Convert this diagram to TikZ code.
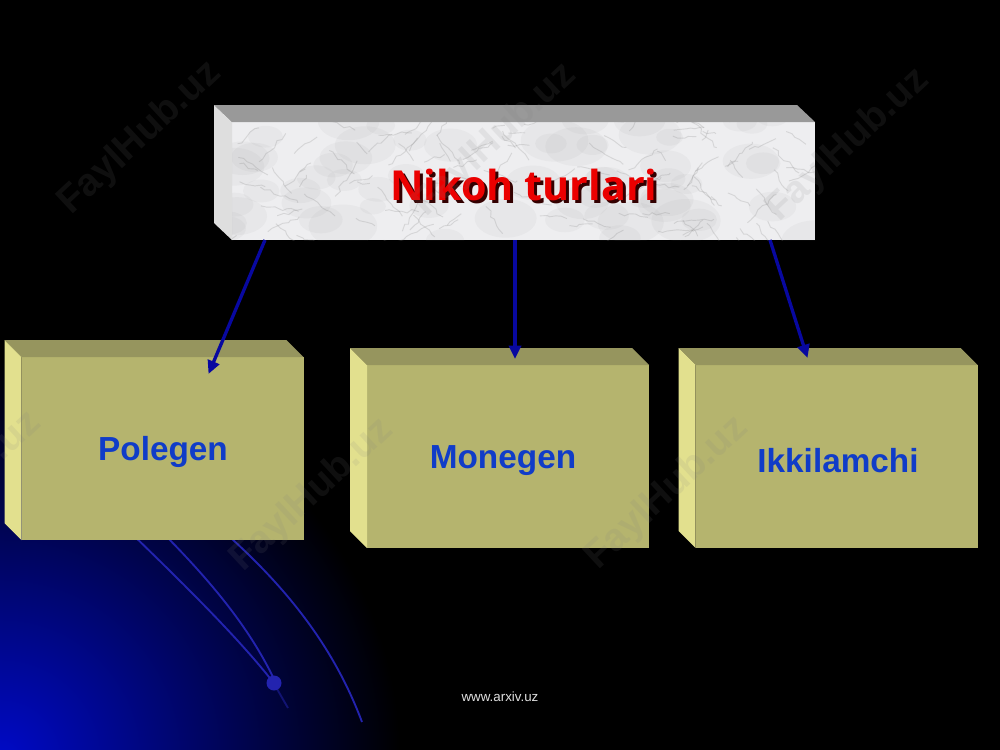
\documentclass[tikz,border=0pt]{standalone}
\usepackage{fontspec}
\setmainfont{Liberation Sans}
\newfontfamily\titlefont{Open Sans}
\usetikzlibrary{arrows.meta,calc,decorations.pathmorphing}
\definecolor{boxfront}{RGB}{181,180,110}
\definecolor{boxtop}{RGB}{150,149,94}
\definecolor{boxleft}{RGB}{226,224,142}
\definecolor{labelblue}{RGB}{16,60,200}
\definecolor{arrowblue}{RGB}{8,8,160}
\definecolor{glowblue}{RGB}{0,10,200}
\definecolor{curveblue}{RGB}{35,35,175}
\definecolor{marble}{RGB}{238,238,240}
\definecolor{marbletop}{RGB}{153,153,153}
\definecolor{marbleleft}{RGB}{222,222,222}
\definecolor{titlered}{RGB}{235,0,0}
\tikzset{
  frontbox/.style={fill=boxfront, draw=none, inner sep=0pt, outer sep=0pt,
    minimum width=211.5pt, minimum height=137.25pt},
  boxlabel/.style={font=\fontsize{25}{30}\selectfont\bfseries, text=labelblue},
  topface/.style={fill=boxtop},
  leftface/.style={fill=boxleft},
  link/.style={draw=arrowblue, line width=2.5pt, -{Triangle[length=10pt,width=9pt]}},
  curve/.style={draw=curveblue, line width=1.4pt},
  vein/.style={draw=gray, opacity=0.22, line width=0.7pt,
    decorate, decoration={random steps, segment length=4pt, amplitude=1.5pt}},
  wmark/.style={text=gray, opacity=0.12, rotate=43,
    font=\fontsize{29}{30}\selectfont\bfseries},
  titletext/.style={font=\titlefont\fontsize{31}{34}\selectfont\bfseries},
}
\begin{document}
\begin{tikzpicture}[x=0.75pt,y=-0.75pt]
\useasboundingbox (0,0) rectangle (1000,750);
\fill[black] (0,0) rectangle (1000,750);
% bottom-left glow
\begin{scope}
  \clip (0,0) rectangle (1000,750);
  \shade[inner color=glowblue, outer color=black] (0,760) circle (400);
\end{scope}
% decorative curves
\draw[curve] (128,530) .. controls (190,590) and (240,640) .. (273,682);
\draw[curve] (160,530) .. controls (215,585) and (250,630) .. (273,677);
\draw[curve, opacity=0.5] (273,682) -- (288,708);
\draw[curve] (222,530) .. controls (290,590) and (335,650) .. (362,722);
\fill[curveblue] (274,683) circle (7.5);

% top marble box
\node[fill=marble, inner sep=0pt, outer sep=0pt, minimum width=437.25pt, minimum height=88.5pt] (top) at (523.5,181) {};
\fill[marbletop] (top.north west) -- (top.north east) -- ++(-18,-17) -- ($(top.north west)+(-18,-17)$) -- cycle;
\fill[marbleleft] (top.north west) -- (top.south west) -- ++(-18,-17) -- ($(top.north west)+(-18,-17)$) -- cycle;
\begin{scope}
  \clip (top.south west) rectangle (top.north east);
  \pgfmathsetseed{11}
  \foreach \i in {1,...,60}{
    \pgfmathsetmacro\xa{225+600*rnd}
    \pgfmathsetmacro\ya{115+130*rnd}
    \pgfmathsetmacro\rr{8+14*rnd}
    \fill[gray, opacity=0.06] (\xa,\ya) ellipse ({\rr*1.6} and \rr);
  }
  \foreach \i in {1,...,130}{
    \pgfmathsetmacro\xa{225+600*rnd}
    \pgfmathsetmacro\ya{115+130*rnd}
    \pgfmathsetmacro\ang{-60+120*rnd}
    \pgfmathsetmacro\len{12+30*rnd}
    \draw[vein] (\xa,\ya) -- ++(\ang:\len);
  }
\end{scope}
\node[titletext, text=black!80!red] (shadow) at (527,188) {Nikoh turlari};
\node[titletext, text=titlered] (title) at (524,185) {Nikoh turlari};

% three boxes
\foreach \n/\cx/\cy in {pol/162.5/448.5, mon/508/456.5, ikk/836.5/456.5}{
  \node[frontbox] (\n) at (\cx,\cy) {};
  \fill[topface] (\n.north west) -- (\n.north east) -- ++(-17,-17) -- ($(\n.north west)+(-17,-17)$) -- cycle;
  \fill[leftface] (\n.north west) -- (\n.south west) -- ++(-17,-17) -- ($(\n.north west)+(-17,-17)$) -- cycle;
}
\node[boxlabel] (tpol) at (163,452) {Polegen};
\node[boxlabel] (tmon) at (503,461) {Monegen};
\node[boxlabel] (tikk) at (838,461) {Ikkilamchi};

% watermarks
\foreach \wx/\wy in {140/138, 495/140, 848/145, 312/495, 667/493, -40/488}{
  \node[wmark] at (\wx,\wy) {FaylHub.uz};
}

% connectors
\coordinate (s1) at ($(top.south west)+(33,0)$);
\coordinate (s2) at ($(top.south west)+(283,0)$);
\coordinate (s3) at ($(top.south west)+(538,0)$);
\coordinate (e1) at ($(pol.north west)+(187,17)$);
\coordinate (e2) at ($(mon.north west)+(148,-6)$);
\coordinate (e3) at ($(ikk.north west)+(112,-7)$);
\draw[link] (s1) -- (e1);
\draw[link] (s2) -- (e2);
\draw[link] (s3) -- (e3);

% footer
\node[text=white!88!black, font=\fontsize{10}{12}\selectfont] (footer) at (500,697) {www.arxiv.uz};
\end{tikzpicture}
\end{document}
